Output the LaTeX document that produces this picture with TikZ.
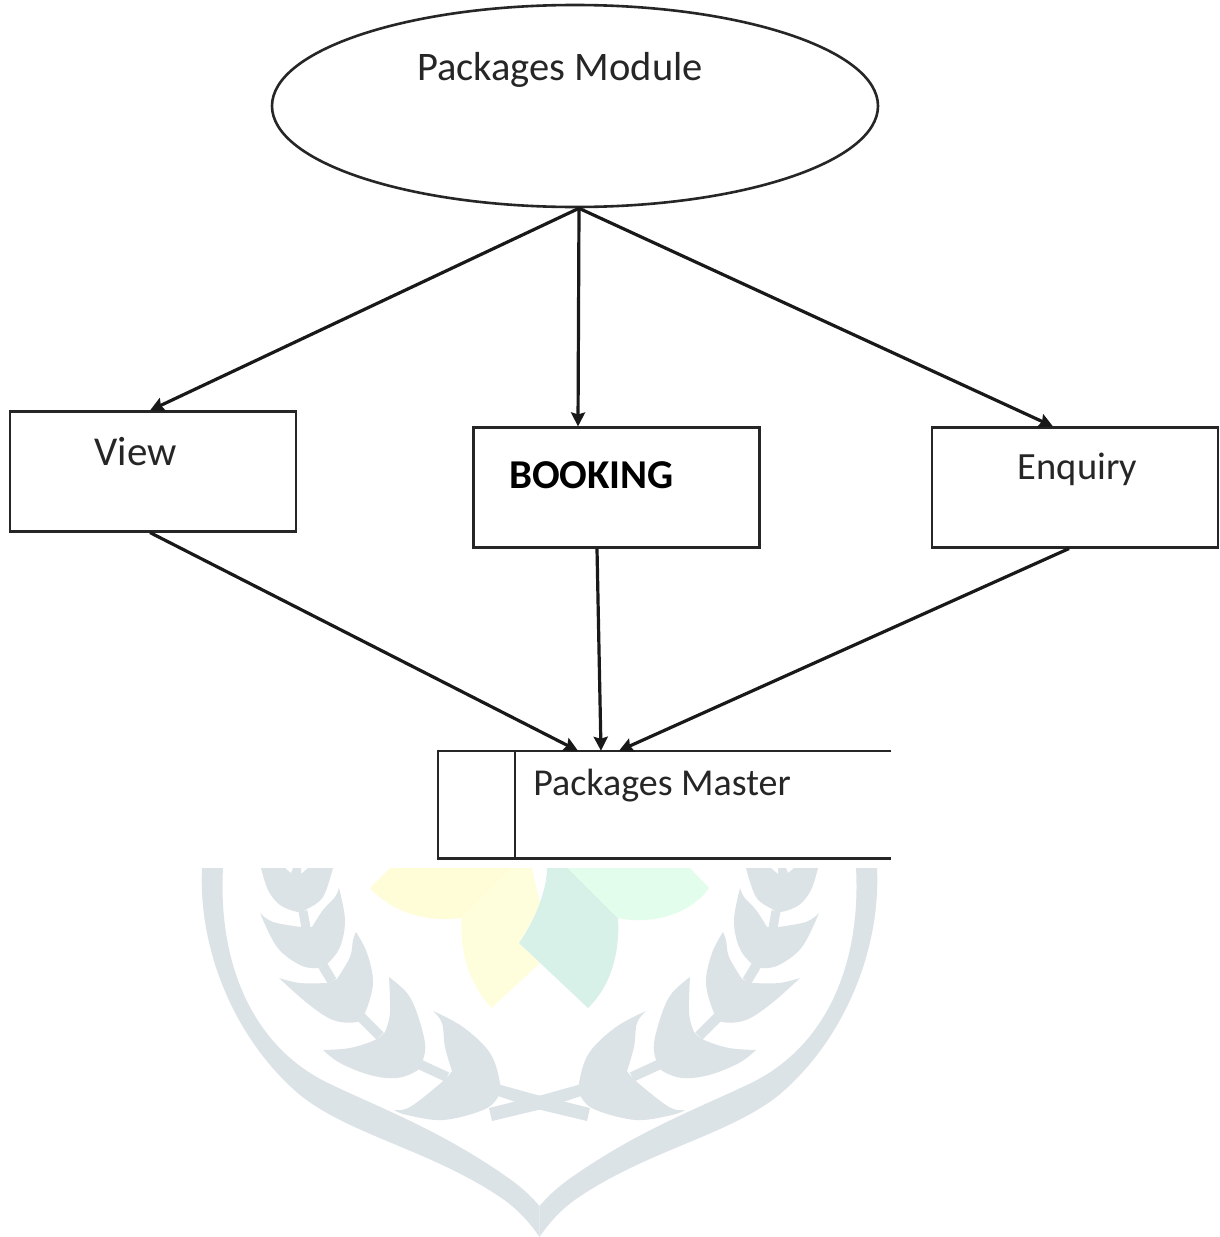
\documentclass[tikz,border=0pt]{standalone}
\usepackage{fontspec}
\setmainfont{Carlito}
\usetikzlibrary{arrows.meta,shapes.geometric}
\definecolor{wm}{HTML}{DCE3E7}
\definecolor{petalA}{HTML}{FFFDD8}
\definecolor{petalB}{HTML}{FFFEDC}
\definecolor{petalC}{HTML}{D8F1E8}
\definecolor{petalD}{HTML}{E3FDEC}
\tikzset{
  x=1pt,y=-1pt,
  shapeline/.style={draw=black!85,line width=2.6pt},
  boxnode/.style={shapeline,rectangle,minimum width=286pt,minimum height=119.5pt,inner sep=0pt},
  label/.style={font=\fontsize{#1}{#1}\selectfont,text=black!85,inner sep=0pt,anchor=center},
  conn/.style={draw=black!90,line width=3.2pt,-{Stealth[length=14pt,width=14pt,inset=2pt]}},
  sm/.style={smooth,tension=.6},
}
\newcommand{\leafhalf}{%
  \draw[wm,line width=9pt] (303,911) -- (306,928);
  \draw[wm,line width=10pt] (323,966) -- (332,981);
  \draw[wm,line width=10pt] (361,1017) -- (380,1036);
  \draw[wm,line width=10pt] (421,1065) -- (447,1077);
  \fill[wm] (495,1083) -- (501,1085) -- (537,1095) -- (566,1102) -- (590,1108) -- (587,1121) -- (537,1109) -- (495,1095) -- cycle;
  % cluster 1
  \fill[wm] plot[sm] coordinates {(433,1011) (463,1027) (490,1053) (500,1083) (498,1097) (483,1110) (443,1120) (407,1115) (394,1110)}
     -- plot[sm] coordinates {(394,1110) (410,1107) (442,1082) (452,1071)}
     -- plot[sm] coordinates {(452,1071) (445,1047) (442,1023) (433,1011)} -- cycle;
  % cluster 2
  \fill[wm] plot[sm] coordinates {(389,977) (407,993) (417,1013) (425,1043) (423,1060) (418,1070) (397,1078) (370,1075) (340,1063) (323,1050)}
     -- plot[sm] coordinates {(323,1050) (350,1048) (375,1040) (385,1032)}
     -- plot[sm] coordinates {(385,1032) (390,1013) (389,977)} -- cycle;
  % cluster 3
  \fill[wm] plot[sm] coordinates {(356,932) (367,953) (373,983) (365,1013) (357,1022) (333,1020) (307,1003) (279,978)}
     -- plot[sm] coordinates {(279,978) (300,983) (327,983)} -- (337,979)
     -- plot[sm] coordinates {(337,979) (350,957) (353,940) (356,932)} -- cycle;
  % cluster 4
  \fill[wm] plot[sm] coordinates {(339,888) (345,920) (340,947) (328,963) (318,968) (300,965) (277,947) (260,913)}
     -- plot[sm] coordinates {(260,913) (273,922) (301,927)} -- (312,927)
     -- plot[sm] coordinates {(312,927) (323,910) (335,897) (339,888)} -- cycle;
  % cluster 5
  \fill[wm] plot[sm] coordinates {(261,868) (268,890) (280,905) (298,912) (307,909) (323,897) (333,868)}
     -- (308,868) -- (301,874) -- (301,868) -- (293,868) -- (291,873) -- (285,868) -- cycle;
  % shield half
  \fill[wm] (202,868) .. controls (198,950) and (235,1040) .. (300,1095)
     .. controls (350,1135) and (430,1150) .. (500,1197)
     .. controls (515,1207) and (528,1220) .. (539.5,1237)
     -- (539.5,1206) .. controls (530,1195) and (520,1186) .. (507,1177)
     .. controls (440,1130) and (380,1108) .. (328,1083)
     .. controls (250,1045) and (218,960) .. (223,868) -- cycle;
}
\begin{document}
\begin{tikzpicture}
\useasboundingbox (0,0) rectangle (1220,1237);
\fill[white] (0,0) rectangle (1220,1237);
% watermark
\leafhalf
\begin{scope}[xshift=1079pt,xscale=-1]
\leafhalf
\end{scope}
\fill[petalA] (390,868) -- (370,888) .. controls (395,915) and (430,922) .. (461.5,918) -- (512,868) -- cycle;
\fill[petalB] (512,868) -- (461.5,918) .. controls (460,955) and (470,985) .. (491.5,1008) -- (540,963) -- (519,943) .. controls (530,925) and (540,905) .. (540,903) -- (532,868) -- cycle;
\fill[petalC] (547,868) .. controls (547,890) and (535,920) .. (519,943) -- (588,1008) .. controls (612,985) and (620,950) .. (618,918) -- (568,868) -- cycle;
\fill[petalD] (568,868) -- (690,868) -- (709,888) .. controls (690,915) and (650,925) .. (618,918) -- cycle;
% diagram
\node[shapeline,ellipse,minimum width=606pt,minimum height=202pt,inner sep=0pt] (pm) at (575,106) {};
\node[label=40.5] (pmt) at (560,70) {Packages Module};
\node[boxnode] (view) at (153,471.5) {};
\node[label=41] (viewt) at (135.5,452) {View};
\node[boxnode] (book) at (616.5,487.5) {};
\node[label=41,font=\fontsize{41}{41}\selectfont\bfseries,text=black] (bookt) at (591.5,475) {BOOKING};
\node[boxnode] (enq) at (1075,487.5) {};
\node[label=38.5] (enqt) at (1077.5,469) {Enquiry};
\node[inner sep=0pt,minimum width=453pt,minimum height=107pt,rectangle] (store) at (664.5,804.5) {};
\draw[shapeline] (store.north east) -- (store.north west) -- (store.south west) -- (store.south east);
\node[inner sep=0pt,minimum width=0pt,minimum height=107pt] (div) at (515,804.5) {};
\draw[shapeline] (div.north) -- (div.south);
\node[label=38] (storet) at (662,786) {Packages Master};
\draw[conn] ([xshift=4pt]pm.south) -- ([xshift=-3pt]view.north);
\draw[conn] ([xshift=4pt]pm.south) -- ([xshift=-38.5pt]book.north);
\draw[conn] ([xshift=4pt]pm.south) -- ([xshift=-22pt]enq.north);
\draw[conn] ([xshift=-3pt]view.south) -- ([xshift=-86.5pt]store.north);
\draw[conn] ([xshift=-19.5pt]book.south) -- ([xshift=-63.5pt]store.north);
\draw[conn] ([xshift=-6pt]enq.south) -- ([xshift=-45.5pt]store.north);
\end{tikzpicture}
\end{document}
